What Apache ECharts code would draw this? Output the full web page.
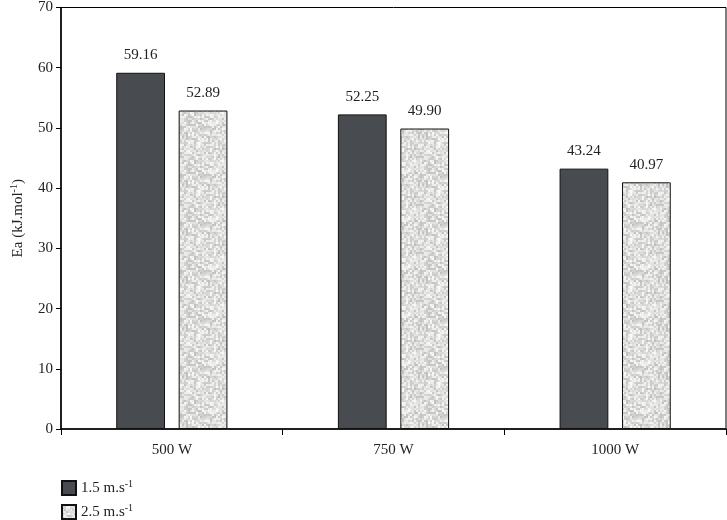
<!DOCTYPE html>
<html><head><meta charset="utf-8">
<script src="https://cdn.jsdelivr.net/npm/echarts@6/dist/echarts.min.js"></script>
<style>html,body{margin:0;padding:0;background:#fff}#c{width:727px;height:520px}</style>
</head><body><div id="c"></div>
<script>
var categories = ['500 W', '750 W', '1000 W'];
var series15 = [59.16, 52.25, 43.24];
var series25 = [52.89, 49.90, 40.97];
var yTicks = [0, 10, 20, 30, 40, 50, 60, 70];
var seriesNames = ['1.5 m.s-1', '2.5 m.s-1'];

// deterministic speckle texture for the light bars
function makeTexture() {
  var cv = document.createElement('canvas');
  cv.width = 48; cv.height = 48;
  var ctx = cv.getContext('2d');
  var s = 12345;
  function rnd() { s = (s * 1103515245 + 12345) & 0x7fffffff; return s / 0x7fffffff; }
  for (var y = 0; y < 48; y += 2) {
    for (var x = 0; x < 48; x += 2) {
      var v = Math.round(192 + rnd() * 58);
      ctx.fillStyle = 'rgb(' + v + ',' + v + ',' + (v - 2) + ')';
      ctx.fillRect(x, y, 2, 2);
    }
  }
  return cv;
}
var tex = makeTexture();

var font = '"Liberation Serif", "DejaVu Serif", serif';
var supStyle = { fontSize: 10, verticalAlign: 'top', padding: [0, 0, 8, 0], fontFamily: font, color: '#222' };
function legendAt(name, top) {
  return {
    left: 61, top: top, itemWidth: 14, itemHeight: 14, padding: 0, icon: 'rect',
    textStyle: { fontFamily: font, fontSize: 15, color: '#222', rich: { sup: supStyle } },
    formatter: function (n) { return n.replace('-1', '') + '{sup|-1}'; },
    data: [name]
  };
}
var chart = echarts.init(document.getElementById('c'));
chart.setOption({
  animation: false,
  textStyle: { fontFamily: font },
  grid: { left: 61, right: 1, top: 4, bottom: 91, show: true, borderColor: '#000', borderWidth: 1 },
  legend: [legendAt(seriesNames[0], 479), legendAt(seriesNames[1], 503)],
  xAxis: {
    type: 'category', data: categories,
    axisLine: { lineStyle: { color: '#000', width: 1.5 } },
    axisTick: { show: true, length: 6, lineStyle: { color: '#000' } },
    axisLabel: { fontFamily: font, fontSize: 15, color: '#222', margin: 14 }
  },
  yAxis: {
    type: 'value', min: 0, max: 70, interval: 10,
    name: 'Ea (kJ.mol{sup|-1})', nameLocation: 'middle', nameGap: 34,
    nameTextStyle: { fontFamily: font, fontSize: 15, color: '#222', rich: { sup: supStyle } },
    axisLine: { show: true, lineStyle: { color: '#000', width: 1.5 } },
    axisTick: { show: true, length: 5, lineStyle: { color: '#000' } },
    splitLine: { show: false },
    axisLabel: { fontFamily: font, fontSize: 15, color: '#222', margin: 8,
      formatter: function (v) { return yTicks.indexOf(v) >= 0 ? String(v) : ''; } }
  },
  series: [
    {
      name: seriesNames[0], type: 'bar', data: series15, barWidth: '22%', barGap: '28%',
      itemStyle: { color: '#484c50', borderColor: '#111', borderWidth: 1 },
      label: { show: true, position: 'top', distance: 10, fontFamily: font, fontSize: 15, color: '#222', formatter: function (p) { return p.value.toFixed(2); } }
    },
    {
      name: seriesNames[1], type: 'bar', data: series25, barWidth: '22%',
      itemStyle: { color: { image: tex, repeat: 'repeat' }, borderColor: '#111', borderWidth: 1 },
      label: { show: true, position: 'top', distance: 10, fontFamily: font, fontSize: 15, color: '#222', formatter: function (p) { return p.value.toFixed(2); } }
    }
  ]
});
</script></body></html>
